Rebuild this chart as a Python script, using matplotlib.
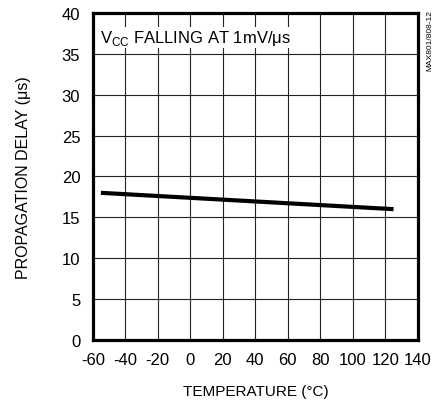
import matplotlib
matplotlib.use("Agg")
import matplotlib.pyplot as plt

fam = 'Liberation Sans'
plt.rcParams['font.family'] = [fam, 'DejaVu Sans']
plt.rcParams['mathtext.fontset'] = 'custom'
plt.rcParams['mathtext.rm'] = fam
plt.rcParams['axes.unicode_minus'] = False

temperature = [-55, 125]
delay = [18.0, 16.0]
xticks = [-60, -40, -20, 0, 20, 40, 60, 80, 100, 120, 140]
yticks = [0, 5, 10, 15, 20, 25, 30, 35, 40]

fig = plt.figure(figsize=(4.46, 4.02), dpi=100)
ax = fig.add_axes([0.208, 0.152, 0.729, 0.813])
ax.plot(temperature, delay, color='black', lw=3, solid_capstyle='butt')
ax.set_xlim(-60, 140)
ax.set_ylim(0, 40)
ax.set_xticks(xticks)
ax.set_yticks(yticks)
ax.tick_params(length=0, labelsize=12, pad=9)
ax.grid(True, color='#222222', lw=0.8)
for s in ax.spines.values():
    s.set_linewidth(2.3)
ax.set_axisbelow(True)
ax.set_xlabel('TEMPERATURE (°C)', fontsize=11, labelpad=12)
ax.set_ylabel('PROPAGATION DELAY (μs)', fontsize=11.5, labelpad=22)
ax.text(-55.3, 37.0, r'V$_{\mathregular{CC}}$ FALLING AT 1mV/μs', fontsize=12,
        va='center', ha='left',
        bbox=dict(facecolor='white', edgecolor='none', pad=1))
fig.text(0.963, 0.975, 'MAX801/808-12', rotation=90, fontsize=6, ha='center', va='top')
fig.savefig('out.png', dpi=100)
